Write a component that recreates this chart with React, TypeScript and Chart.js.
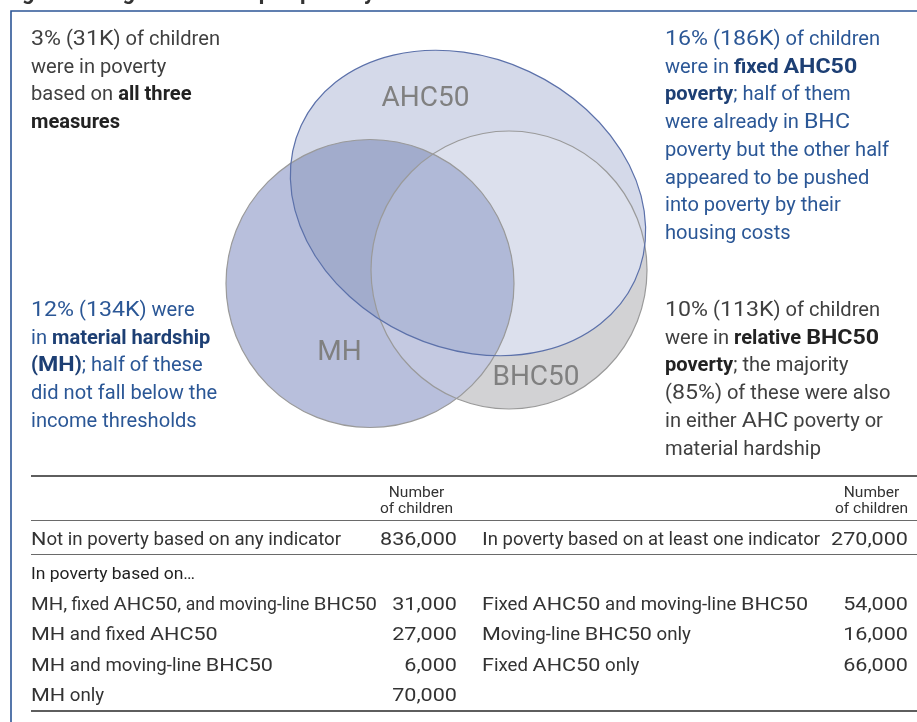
import React, { useEffect, useRef } from 'react';
import { Chart, registerables } from 'chart.js';

Chart.register(...registerables);

const W = 917;
const H = 722;
const FONT = 'Roboto, "Liberation Sans", Arial, sans-serif';

// ---- Venn sets (in scale units) ----
const setNames = ['AHC50', 'MH', 'BHC50'];
const setCx = [468, 370, 509];
const setCy = [203, 283.5, 270];
const setRx = [184, 144, 138];
const setRy = [145, 144, 139];
const setRot = [25, 0, 0];

// ---- annotation texts (** marks bold) ----
const titleText = 'Figure 2: Degree of overlap in poverty measures';
const noteAllThree = ['3% (31K) of children', 'were in poverty', 'based on **all three**', '**measures**'];
const noteAHC = [
  '16% (186K) of children',
  'were in **fixed AHC50**',
  '**poverty**; half of them',
  'were already in BHC',
  'poverty but the other half',
  'appeared to be pushed',
  'into poverty by their',
  'housing costs',
];
const noteMH = ['12% (134K) were', 'in **material hardship**', '**(MH)**; half of these', 'did not fall below the', 'income thresholds'];
const noteBHC = [
  '10% (113K) of children',
  'were in **relative BHC50**',
  '**poverty**; the majority',
  '(85%) of these were also',
  'in either AHC poverty or',
  'material hardship',
];

// ---- table ----
const headerLines = ['Number', 'of children'];
const totalLabels = ['Not in poverty based on any indicator', 'In poverty based on at least one indicator'];
const totalValues = [836000, 270000];
const subHeading = 'In poverty based on\u2026';
const leftLabels = ['MH, fixed AHC50, and moving-line BHC50', 'MH and fixed AHC50', 'MH and moving-line BHC50', 'MH only'];
const leftValues = [31000, 27000, 6000, 70000];
const rightLabels = ['Fixed AHC50 and moving-line BHC50', 'Moving-line BHC50 only', 'Fixed AHC50 only'];
const rightValues = [54000, 16000, 66000];

const fmt = (v: number) => v.toLocaleString('en-US');

type Seg = { t: string; font: string; color: string };
const WIDE = /([A-Z0-9%,]+)/;

function splitRuns(segs: Seg[]) {
  const out: { t: string; font: string; color: string; wide: boolean }[] = [];
  segs.forEach((s) => {
    s.t.split(WIDE).forEach((p) => {
      if (!p) return;
      out.push({ t: p, font: s.font, color: s.color, wide: /^[A-Z0-9%,]+$/.test(p) });
    });
  });
  return out;
}

function measureRuns(ctx: CanvasRenderingContext2D, segs: Seg[]) {
  let low = 0;
  let wide = 0;
  splitRuns(segs).forEach((r) => {
    ctx.font = r.font;
    const w = ctx.measureText(r.t).width;
    if (r.wide) wide += w;
    else low += w;
  });
  return { low, wide };
}

function drawRuns(
  ctx: CanvasRenderingContext2D,
  segs: Seg[],
  x: number,
  y: number,
  align: 'left' | 'right' | 'center',
  lowScale: number,
  wideScale: number,
  maxW?: number
) {
  const runs = splitRuns(segs);
  const widths = runs.map((r) => {
    ctx.font = r.font;
    return ctx.measureText(r.t).width * (r.wide ? wideScale : lowScale);
  });
  let total = widths.reduce((a, b) => a + b, 0);
  let f = 1;
  if (maxW && total > maxW) {
    f = maxW / total;
    total = maxW;
  }
  let cx = align === 'left' ? x : align === 'right' ? x - total : x - total / 2;
  runs.forEach((r, i) => {
    ctx.save();
    ctx.translate(cx, y);
    ctx.scale((r.wide ? wideScale : lowScale) * f, 1);
    ctx.font = r.font;
    ctx.fillStyle = r.color;
    ctx.textAlign = 'left';
    ctx.textBaseline = 'alphabetic';
    ctx.fillText(r.t, 0, 0);
    ctx.restore();
    cx += widths[i] * f;
  });
}

function richSegs(line: string, size: number, color: string, boldColor: string): Seg[] {
  return line
    .split('**')
    .map((t, i) => ({
      t,
      font: `${i % 2 === 1 ? 700 : 400} ${size}px ${FONT}`,
      color: i % 2 === 1 ? boldColor : color,
    }))
    .filter((s) => s.t);
}

const vennPlugin = {
  id: 'vennTable',
  afterDraw(chart: any) {
    const ctx: CanvasRenderingContext2D = chart.ctx;
    const xs = chart.scales.x;
    const ys = chart.scales.y;
    const px = (v: number) => xs.getPixelForValue(v);
    const py = (v: number) => ys.getPixelForValue(v);
    const kx = Math.abs(px(1) - px(0));
    const ky = Math.abs(py(1) - py(0));

    // title (cut off at top) and frame
    ctx.save();
    ctx.font = `700 22px ${FONT}`;
    ctx.fillStyle = '#333333';
    ctx.textBaseline = 'alphabetic';
    ctx.fillText(titleText, px(4), py(-1));
    ctx.restore();

    ctx.save();
    ctx.strokeStyle = '#2c5596';
    ctx.lineWidth = 1.6;
    ctx.beginPath();
    ctx.moveTo(px(11), py(H));
    ctx.lineTo(px(11), py(11));
    ctx.lineTo(px(W), py(11));
    ctx.stroke();
    ctx.restore();

    // ---- Venn ----
    const paths = setNames.map((_, i) => {
      const p = new Path2D();
      p.ellipse(px(setCx[i]), py(setCy[i]), setRx[i] * kx, setRy[i] * ky, (setRot[i] * Math.PI) / 180, 0, Math.PI * 2);
      return p;
    });
    const [A, M, B] = paths;
    const fillClip = (clips: Path2D[], target: Path2D, color: string) => {
      ctx.save();
      clips.forEach((c) => ctx.clip(c));
      ctx.fillStyle = color;
      ctx.fill(target);
      ctx.restore();
    };
    fillClip([], B, '#d2d2d4');
    fillClip([], A, '#d4d9e9');
    fillClip([A], B, '#dce0ed');
    fillClip([], M, '#b8bfdc');
    fillClip([M], A, '#a2accc');
    fillClip([M], B, '#c4c9e1');
    fillClip([M, A], B, '#b0b9d7');

    ctx.save();
    ctx.lineWidth = 1.2;
    ctx.strokeStyle = '#9a9a9a';
    ctx.stroke(M);
    ctx.stroke(B);
    ctx.strokeStyle = '#5c71aa';
    ctx.stroke(A);
    ctx.restore();

    const labelPos = [[425.5, 106], [339.5, 360], [536, 385]];
    setNames.forEach((n, i) => {
      ctx.save();
      ctx.font = `400 28px ${FONT}`;
      ctx.fillStyle = '#808080';
      ctx.textAlign = 'center';
      ctx.textBaseline = 'alphabetic';
      ctx.fillText(n, px(labelPos[i][0]), py(labelPos[i][1]));
      ctx.restore();
    });

    // ---- annotations ----
    const noteSize = 21;
    const gray = '#404040';
    const grayB = '#222222';
    const blue = '#2b5796';
    const blueB = '#1d3f74';
    const calLow = measureRuns(ctx, richSegs('poverty but the other half', noteSize, gray, grayB));
    const nLow = 224 / calLow.low;
    const calWide = measureRuns(ctx, richSegs(noteAllThree[0], noteSize, gray, grayB));
    const nWide = (189 - calWide.low * nLow) / calWide.wide;
    const lh = 27.7;
    const drawNote = (lines: string[], x: number, y0: number, c: string, cb: string) =>
      lines.forEach((l, i) => drawRuns(ctx, richSegs(l, noteSize, c, cb), px(x), py(y0 + i * lh), 'left', nLow, nWide));
    drawNote(noteAllThree, 31, 45, gray, grayB);
    drawNote(noteAHC, 665, 45, blue, blueB);
    drawNote(noteMH, 31, 316, blue, blueB);
    drawNote(noteBHC, 665, 316, gray, grayB);

    // ---- table ----
    const tSize = 18.5;
    const tColor = '#333333';
    const tFont = `400 ${tSize}px ${FONT}`;
    const seg = (t: string, font = tFont, color = tColor): Seg[] => [{ t, font, color }];
    const tLowM = measureRuns(ctx, seg(totalLabels[0]));
    const tLow = 308 / (tLowM.low + tLowM.wide);
    const tWideM = measureRuns(ctx, seg(fmt(totalValues[0])));
    const tWide = 77 / tWideM.wide;

    const rule = (y: number, w: number, c: string) => {
      ctx.save();
      ctx.strokeStyle = c;
      ctx.lineWidth = w;
      ctx.beginPath();
      ctx.moveTo(px(31), py(y));
      ctx.lineTo(px(W), py(y));
      ctx.stroke();
      ctx.restore();
    };
    rule(476, 2.2, '#5e5e5e');
    rule(520.5, 1, '#6a6a6a');
    rule(554.5, 1, '#6a6a6a');
    rule(711, 2.2, '#5e5e5e');

    const hFont = `400 15.5px ${FONT}`;
    const hM = measureRuns(ctx, seg(headerLines[1], hFont));
    const hScale = 73 / (hM.low + hM.wide);
    [416.5, 871.5].forEach((cx) => {
      headerLines.forEach((h, i) => drawRuns(ctx, seg(h, hFont), px(cx), py(497 + i * 16), 'center', hScale, hScale));
    });

    drawRuns(ctx, seg(totalLabels[0]), px(31), py(545), 'left', tLow, tWide, 340);
    drawRuns(ctx, seg(fmt(totalValues[0])), px(457), py(545), 'right', tLow, tWide);
    drawRuns(ctx, seg(totalLabels[1]), px(482), py(545), 'left', tLow, tWide, 338);
    drawRuns(ctx, seg(fmt(totalValues[1])), px(908), py(545), 'right', tLow, tWide);

    const sFont = `400 16.5px ${FONT}`;
    const sM = measureRuns(ctx, seg(subHeading, sFont));
    const sScale = 164 / (sM.low + sM.wide);
    drawRuns(ctx, seg(subHeading, sFont, '#1f1f1f'), px(31), py(579), 'left', sScale, sScale);

    const rowY = [609.5, 640, 670.5, 701];
    leftLabels.forEach((l, i) => {
      drawRuns(ctx, seg(l), px(31), py(rowY[i]), 'left', tLow, tWide, 346);
      drawRuns(ctx, seg(fmt(leftValues[i])), px(457), py(rowY[i]), 'right', tLow, tWide);
    });
    rightLabels.forEach((l, i) => {
      drawRuns(ctx, seg(l), px(482), py(rowY[i]), 'left', tLow, tWide, 342);
      drawRuns(ctx, seg(fmt(rightValues[i])), px(908), py(rowY[i]), 'right', tLow, tWide);
    });
  },
};

export default function App() {
  const ref = useRef<HTMLCanvasElement | null>(null);
  useEffect(() => {
    document.body.style.margin = '0';
    const canvas = ref.current;
    if (!canvas) return;
    const chart = new Chart(canvas, {
      type: 'scatter',
      data: {
        datasets: setNames.map((n, i) => ({
          label: n,
          data: [{ x: setCx[i], y: setCy[i] }],
          pointRadius: 0,
          showLine: false,
        })),
      },
      options: {
        responsive: false,
        animation: false,
        devicePixelRatio: 1,
        events: [],
        layout: { padding: 0 },
        scales: {
          x: { type: 'linear', min: 0, max: W, display: false },
          y: { type: 'linear', min: 0, max: H, reverse: true, display: false },
        },
        plugins: { legend: { display: false }, tooltip: { enabled: false } },
      },
      plugins: [vennPlugin],
    } as any);
    return () => chart.destroy();
  }, []);
  return <canvas ref={ref} width={W} height={H} style={{ display: 'block' }} />;
}
